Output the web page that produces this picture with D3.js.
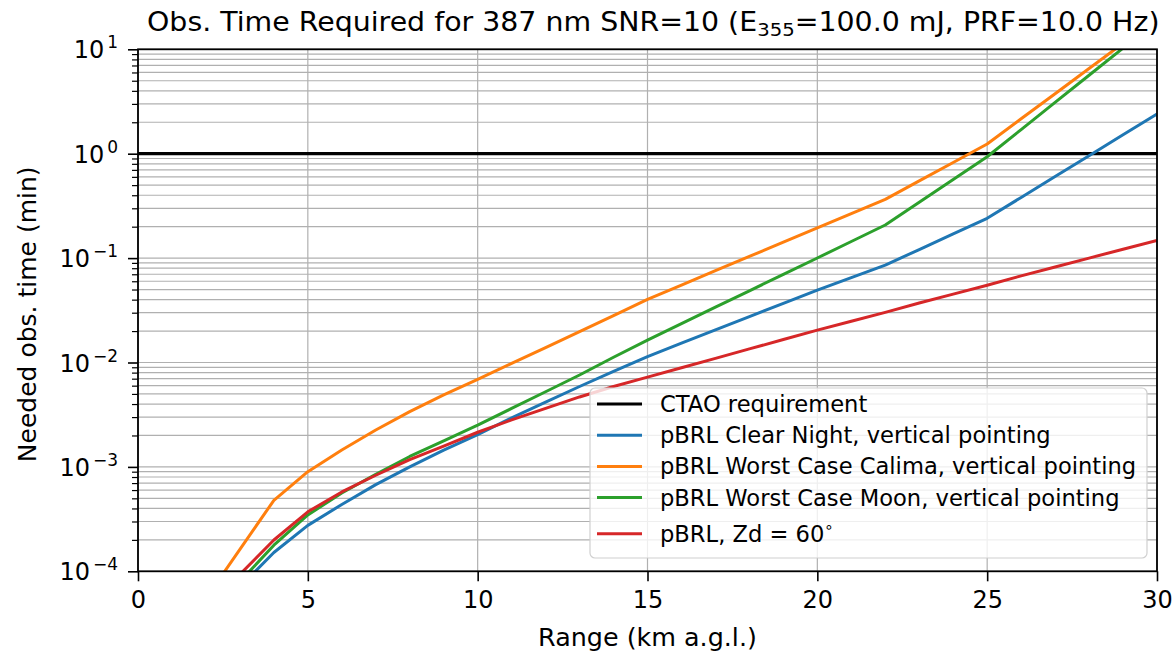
<!DOCTYPE html>
<html>
<head>
<meta charset="utf-8">
<script src="https://cdn.jsdelivr.net/npm/d3@7"></script>
<style>
  body { margin: 0; background: #fff; }
  svg { display: block; font-family: "DejaVu Sans", sans-serif; }
  .axis path, .axis line { stroke: #000; }
  .axis text { font-size: 24px; fill: #000; font-family: "DejaVu Sans", sans-serif; }
  .grid line { stroke: #b0b0b0; stroke-width: 1.2; }
</style>
</head>
<body>
<svg id="chart" width="1175" height="652"></svg>
<script>
// range in km a.g.l.
const rangeKm = [2, 3, 4, 5, 6, 7, 8, 9, 10, 11, 12, 13, 14, 15, 16, 17, 18, 19, 20, 21, 22, 23, 24, 25, 26, 27, 28, 29, 30];

// log10 of needed obs. time (min)
const clearNight = [-4.55, -4.15, -3.82, -3.56, -3.36, -3.17, -3.00, -2.84, -2.69, -2.53, -2.38, -2.23, -2.085, -1.944, -1.815, -1.688, -1.56, -1.433, -1.307, -1.187, -1.067, -0.918, -0.768, -0.619, -0.419, -0.219, -0.019, 0.181, 0.38];
const calima = [-4.26, -3.79, -3.32, -3.046, -2.838, -2.647, -2.471, -2.311, -2.161, -2.008, -1.857, -1.704, -1.55, -1.395, -1.258, -1.121, -0.984, -0.847, -0.71, -0.573, -0.437, -0.26, -0.084, 0.093, 0.334, 0.575, 0.816, 1.057, 1.298];
const moon = [-4.50, -4.10, -3.75, -3.46, -3.25, -3.07, -2.90, -2.75, -2.60, -2.44, -2.28, -2.12, -1.95, -1.785, -1.628, -1.47, -1.313, -1.156, -0.999, -0.841, -0.683, -0.465, -0.247, -0.029, 0.231, 0.491, 0.751, 1.011, 1.271];
const zd60 = [-4.42, -4.03, -3.70, -3.43, -3.24, -3.08, -2.93, -2.80, -2.668, -2.55, -2.44, -2.33, -2.23, -2.14, -2.05, -1.96, -1.87, -1.78, -1.69, -1.605, -1.52, -1.43, -1.345, -1.26, -1.17, -1.085, -1.00, -0.915, -0.83];

const ctaoRequirement = 1; // min

const seriesNames = ['pBRL Clear Night, vertical pointing', 'pBRL Worst Case Calima, vertical pointing', 'pBRL Worst Case Moon, vertical pointing', 'pBRL, Zd = 60'];
const seriesColors = ['#1f77b4', '#ff7f0e', '#2ca02c', '#d62728'];

const xTicks = [0, 5, 10, 15, 20, 25, 30];
const yDecades = [-4, -3, -2, -1, 0, 1];

(function() {
    var svg = d3.select('#chart'),
        mLeft = 138, mRight = 1157, mTop = 49.3, mBottom = 571.3;

    var x = d3.scaleLinear().domain([0, 30]).range([mLeft, mRight]);
    var y = d3.scaleLog().domain([1e-4, 10]).range([mBottom, mTop]);

    var minorVals = [];
    yDecades.slice(0, -1).forEach(function(e) {
        for (var k = 2; k <= 9; k++) minorVals.push(k * Math.pow(10, e));
    });
    var majorVals = yDecades.map(e => Math.pow(10, e));

    svg.append('defs').append('clipPath').attr('id', 'plot-clip')
        .append('rect')
        .attr('x', mLeft).attr('y', mTop)
        .attr('width', mRight - mLeft).attr('height', mBottom - mTop);

    // grid
    var grid = svg.append('g').attr('class', 'grid');
    grid.selectAll('.vgrid').data(xTicks).join('line')
        .attr('x1', d => x(d)).attr('x2', d => x(d))
        .attr('y1', mTop).attr('y2', mBottom);
    grid.selectAll('.hgrid').data(minorVals.concat(majorVals)).join('line')
        .attr('x1', mLeft).attr('x2', mRight)
        .attr('y1', d => y(d)).attr('y2', d => y(d));

    // CTAO line
    svg.append('line')
        .attr('x1', x(0)).attr('x2', x(30))
        .attr('y1', y(ctaoRequirement)).attr('y2', y(ctaoRequirement))
        .attr('stroke', '#000').attr('stroke-width', 3.3);

    // series
    var line = d3.line().x((d, i) => x(rangeKm[i])).y(d => y(Math.pow(10, d)));
    var allSeries = [clearNight, calima, moon, zd60];
    svg.append('g').attr('clip-path', 'url(#plot-clip)')
        .selectAll('path').data(allSeries).join('path')
        .attr('d', d => line(d))
        .attr('fill', 'none')
        .attr('stroke', (d, i) => seriesColors[i])
        .attr('stroke-width', 3)
        .attr('stroke-linejoin', 'round');

    // axes
    var xAxis = svg.append('g').attr('class', 'axis')
        .attr('transform', 'translate(0,' + mBottom + ')')
        .call(d3.axisBottom(x).tickValues(xTicks).tickSize(10).tickPadding(10).tickSizeOuter(0));
    xAxis.selectAll('line').attr('stroke-width', 1.6);
    xAxis.select('.domain').remove();

    var yAxisMinor = svg.append('g').attr('class', 'axis')
        .attr('transform', 'translate(' + mLeft + ',0)')
        .call(d3.axisLeft(y).tickValues(minorVals).tickSize(6).tickFormat('').tickSizeOuter(0));
    yAxisMinor.selectAll('line').attr('stroke-width', 1.2);
    yAxisMinor.select('.domain').remove();
    var yAxis = svg.append('g').attr('class', 'axis')
        .attr('transform', 'translate(' + mLeft + ',0)')
        .call(d3.axisLeft(y).tickValues(majorVals).tickSize(10).tickFormat('').tickSizeOuter(0));
    yAxis.selectAll('line').attr('stroke-width', 1.6);
    yAxis.select('.domain').remove();

    // y tick labels with superscript exponents
    var yLab = svg.append('g').selectAll('text').data(yDecades).join('text')
        .attr('x', 118)
        .attr('y', d => y(Math.pow(10, d)) + 9)
        .attr('text-anchor', 'end')
        .attr('font-size', 24);
    yLab.append('tspan').text('10');
    yLab.append('tspan').attr('dy', -10).attr('dx', 3).attr('font-size', 17)
        .text(d => String(d).replace('-', '\u2212'));

    // frame
    svg.append('rect')
        .attr('x', mLeft).attr('y', mTop)
        .attr('width', mRight - mLeft).attr('height', mBottom - mTop)
        .attr('fill', 'none').attr('stroke', '#000').attr('stroke-width', 1.8);

    // title, stretched sideways to the reference's width
    var title = svg.append('text')
        .attr('text-anchor', 'start').attr('font-size', 26);
    title.append('tspan').text('Obs. Time Required for 387 nm SNR=10 (E');
    title.append('tspan').attr('font-size', 18).attr('dy', 5).text('355');
    title.append('tspan').attr('dy', -5).text('=100.0 mJ, PRF=10.0 Hz)');
    var tw = title.node().getBBox().width;
    title.attr('transform', 'translate(147,31) scale(' + (1013 / tw) + ',1)');

    // axis labels
    svg.append('text')
        .attr('x', (mLeft + mRight) / 2).attr('y', 646)
        .attr('text-anchor', 'middle').attr('font-size', 25.4)
        .text('Range (km a.g.l.)');
    svg.append('text')
        .attr('transform', 'translate(36,' + ((mTop + mBottom) / 2 + 4) + ') rotate(-90)')
        .attr('text-anchor', 'middle').attr('font-size', 25)
        .text('Needed obs. time (min)');

    // legend
    var legend = svg.append('g').attr('transform', 'translate(590,388)');
    legend.append('rect')
        .attr('width', 557).attr('height', 170).attr('rx', 5)
        .attr('fill', 'rgba(255,255,255,0.8)')
        .attr('stroke', '#d0d0d0').attr('stroke-width', 1.2);

    var legendItems = [{ name: 'CTAO requirement', color: '#000' }].concat(
        seriesNames.map((n, i) => ({ name: n, color: seriesColors[i] })));
    var rows = legend.selectAll('.row').data(legendItems).join('g')
        .attr('transform', (d, i) => 'translate(0,' + (16 + i * 31.2 + (i === 4 ? 5 : 0)) + ')');
    rows.append('line')
        .attr('x1', 7).attr('x2', 52)
        .attr('stroke', d => d.color).attr('stroke-width', 3);
    var rowText = rows.append('text')
        .attr('x', 70).attr('y', 8)
        .attr('font-size', 22.6);
    rowText.append('tspan').text(d => d.name);
    rowText.filter((d, i) => i === 4).append('tspan')
        .attr('dy', -10).attr('font-size', 15).text('\u2218');
})();
</script>
</body>
</html>
